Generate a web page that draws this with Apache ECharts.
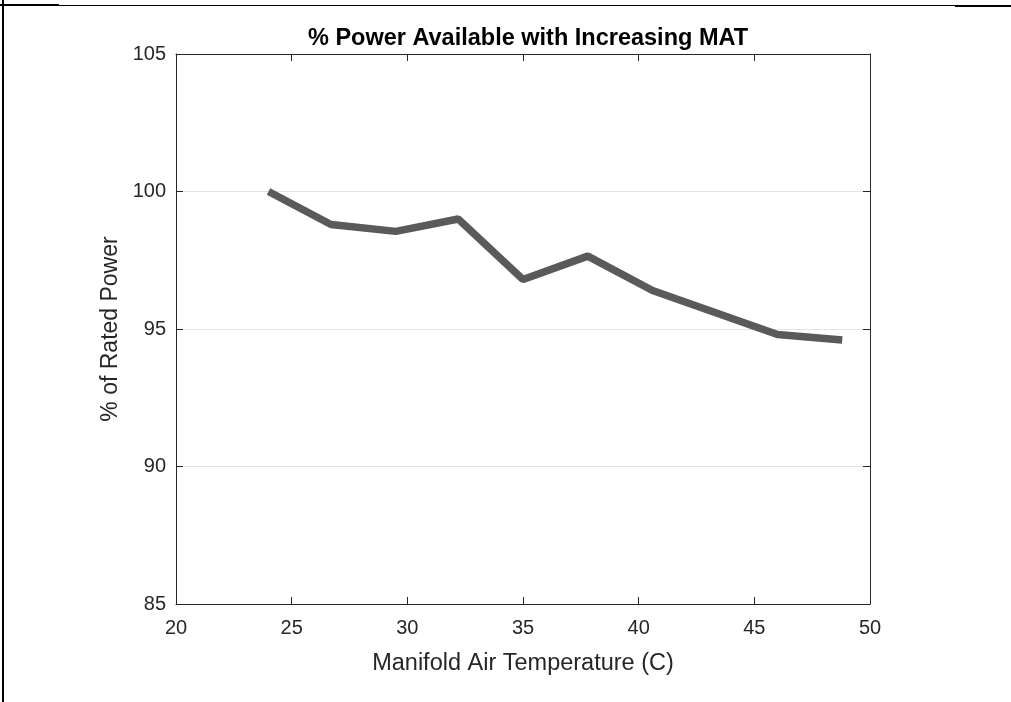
<!DOCTYPE html>
<html>
<head>
<meta charset="utf-8">
<script src="https://cdn.jsdelivr.net/npm/echarts@6/dist/echarts.min.js"></script>
<style>
html,body{margin:0;padding:0;background:#fff;}
#chart{width:1011px;height:702px;}
</style>
</head>
<body>
<div id="chart"></div>
<script>
const titleText = '% Power Available with Increasing MAT';
const xLabel = 'Manifold Air Temperature (C)';
const yLabel = '% of Rated Power';
const temps = [24.0, 26.7, 29.5, 32.2, 35.0, 37.8, 40.6, 43.3, 46.0, 48.8];
const power = [100.0, 98.8, 98.55, 99.0, 96.8, 97.65, 96.4, 95.6, 94.8, 94.6];
const xMin = 20, xMax = 50, xStep = 5;
const yMin = 85, yMax = 105, yStep = 5;

const font = 'Liberation Sans, Arial, Helvetica, sans-serif';
const axisColor = '#262626';

const chart = echarts.init(document.getElementById('chart'), null, {renderer: 'canvas'});
const baseX = {
  type: 'value', min: xMin, max: xMax, interval: xStep,
  axisLine: {show: true, onZero: false, lineStyle: {color: axisColor, width: 1}},
  axisTick: {show: true, inside: true, length: 7, lineStyle: {color: axisColor}},
  splitLine: {show: false}
};
const baseY = {
  type: 'value', min: yMin, max: yMax, interval: yStep,
  axisLine: {show: true, onZero: false, lineStyle: {color: axisColor, width: 1}},
  axisTick: {show: true, inside: true, length: 7, lineStyle: {color: axisColor}},
};
chart.setOption({
  animation: false,
  backgroundColor: '#ffffff',
  title: {
    text: titleText, left: 523, top: 22, textAlign: 'center',
    textStyle: {fontFamily: font, fontWeight: 'bold', fontSize: 23.5, color: '#000'}
  },
  grid: {left: 176, right: 141, top: 54, bottom: 98, containLabel: false},
  xAxis: [
    Object.assign({}, baseX, {
      position: 'bottom',
      axisLabel: {show: true, margin: 14, fontFamily: font, fontSize: 20, color: axisColor},
      name: xLabel, nameLocation: 'middle', nameGap: 48,
      nameTextStyle: {fontFamily: font, fontSize: 23.5, color: axisColor}
    }),
    Object.assign({}, baseX, {position: 'top', axisLabel: {show: false}})
  ],
  yAxis: [
    Object.assign({}, baseY, {
      position: 'left',
      axisLabel: {show: true, margin: 10, fontFamily: font, fontSize: 20, color: axisColor},
      splitLine: {show: true, lineStyle: {color: '#e3e3e3', width: 1}},
      name: yLabel, nameLocation: 'middle', nameGap: 53,
      nameTextStyle: {fontFamily: font, fontSize: 23, color: axisColor}
    }),
    Object.assign({}, baseY, {position: 'right', axisLabel: {show: false}, splitLine: {show: false}})
  ],
  series: [{
    type: 'line',
    data: temps.map((t, i) => [t, power[i]]),
    showSymbol: false,
    lineStyle: {color: '#5a5a5a', width: 7.5},
    itemStyle: {color: '#5a5a5a'}
  }],
  graphic: [
    {type: 'line', shape: {x1: 3, y1: 0, x2: 3, y2: 702}, style: {stroke: '#000', lineWidth: 2}},
    {type: 'line', shape: {x1: 0, y1: 5, x2: 59, y2: 5}, style: {stroke: '#000', lineWidth: 2}},
    {type: 'line', shape: {x1: 59, y1: 5.5, x2: 955, y2: 5.5}, style: {stroke: '#000', lineWidth: 1}},
    {type: 'line', shape: {x1: 955, y1: 6, x2: 1011, y2: 6}, style: {stroke: '#000', lineWidth: 2}}
  ]
});
</script>
</body>
</html>
